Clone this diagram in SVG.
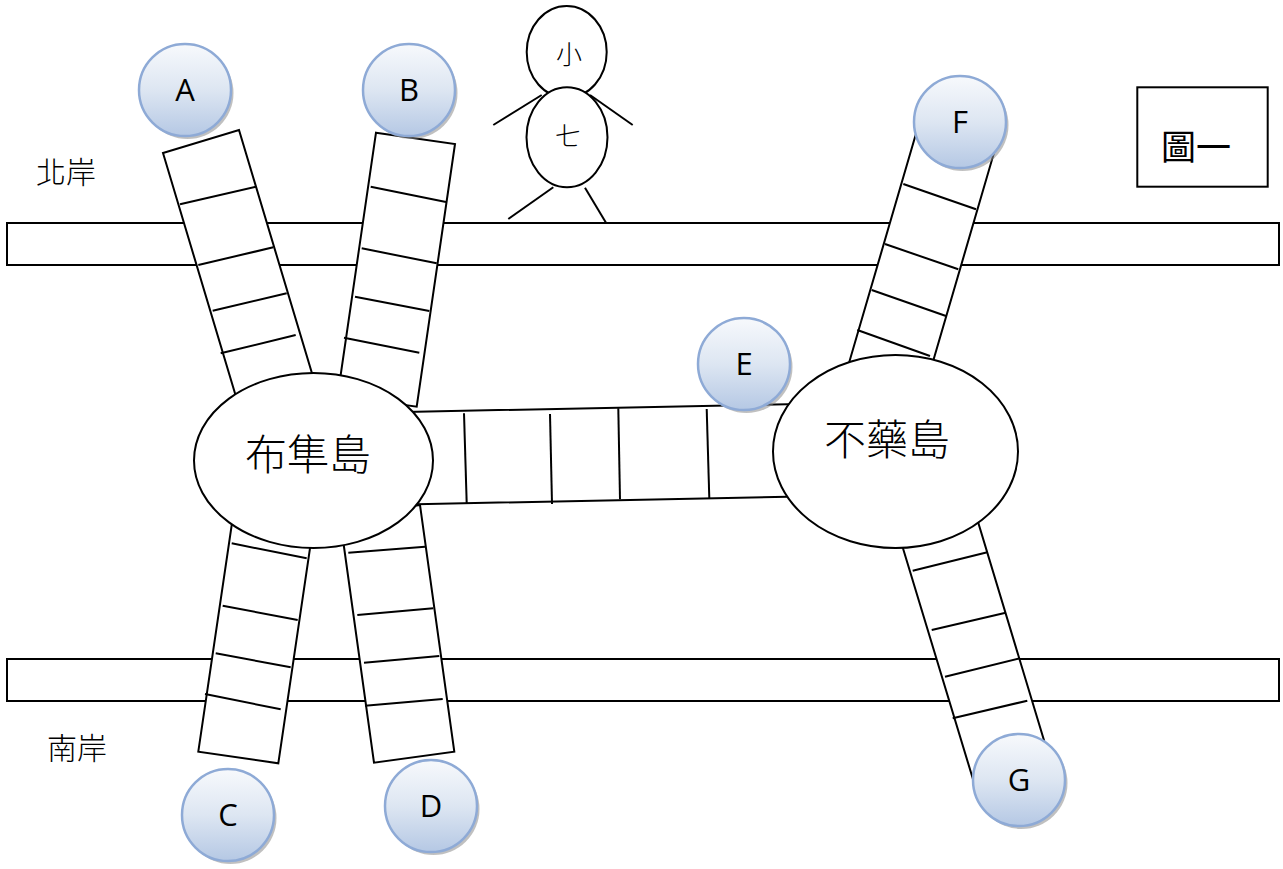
<svg xmlns="http://www.w3.org/2000/svg" width="1283" height="869" viewBox="0 0 1283 869">
<defs>
<linearGradient id="bub" x1="0" y1="0" x2="0" y2="1">
<stop offset="0" stop-color="#f7f9fc"/>
<stop offset="0.5" stop-color="#dde6f2"/>
<stop offset="1" stop-color="#b5c8e4"/>
</linearGradient>
</defs>
<style>
.bank{fill:#fff;stroke:#000;stroke-width:2}
.br{fill:#fff;stroke:#000;stroke-width:2;stroke-linejoin:miter}
.rung{stroke:#000;stroke-width:2;fill:none}
.isl{fill:#fff;stroke:#000;stroke-width:2}
.cj{font-family:"Noto Sans CJK TC","Noto Sans CJK SC",sans-serif;fill:#000;font-weight:300}
.bub{fill:url(#bub);stroke:#8eaad6;stroke-width:2.5}
.sh{fill:#8c8c8c;opacity:0.55}
.lt{font-family:"Open Sans","Liberation Sans",sans-serif;font-size:31px;fill:#000;text-anchor:middle}
</style>
<rect width="1283" height="869" fill="#fff"/>

<g id="banks">
<rect class="bank" x="7" y="223" width="1272" height="42"/>
<rect class="bank" x="7" y="659" width="1272" height="42"/>
<text class="cj" x="36" y="183" font-size="30">北岸</text>
<text class="cj" x="47" y="759" font-size="30">南岸</text>
</g>

<g id="connectors">
<g id="bridge-A">
<polygon class="br" points="163,153 239,130 326,420 243,420"/>
<line class="rung" x1="180" y1="204.3" x2="256" y2="186.7"/>
<line class="rung" x1="198.3" y1="265" x2="273.3" y2="247.3"/>
<line class="rung" x1="212.7" y1="310.7" x2="286.7" y2="293.3"/>
<line class="rung" x1="220.7" y1="353.3" x2="295.7" y2="335"/>
</g>
<g id="bridge-B">
<polygon class="br" points="376,132.7 455,144 416.7,406.7 337.7,395.4"/>
<line class="rung" x1="370.7" y1="186.7" x2="446" y2="202"/>
<line class="rung" x1="361.7" y1="248.3" x2="436.7" y2="263.3"/>
<line class="rung" x1="355" y1="296.7" x2="429.3" y2="311"/>
<line class="rung" x1="344" y1="337.7" x2="419.3" y2="352.7"/>
</g>
<g id="bridge-C">
<polygon class="br" points="235.4,500 315.4,511.6 278.3,763.3 198.3,751.7"/>
<line class="rung" x1="231.7" y1="543.3" x2="306.7" y2="558.3"/>
<line class="rung" x1="222.7" y1="605.7" x2="297.7" y2="620"/>
<line class="rung" x1="215.7" y1="653.3" x2="290.7" y2="667.3"/>
<line class="rung" x1="205" y1="694" x2="280.7" y2="709.3"/>
</g>
<g id="bridge-D">
<polygon class="br" points="339.7,516 420,505 454.3,751.7 374,762.7"/>
<line class="rung" x1="348.3" y1="552.7" x2="425" y2="546.7"/>
<line class="rung" x1="357.3" y1="615" x2="433.3" y2="608.3"/>
<line class="rung" x1="364" y1="662.7" x2="439.3" y2="656"/>
<line class="rung" x1="365" y1="705.7" x2="442.7" y2="699"/>
</g>
<g id="bridge-E">
<polygon class="br" points="405,412 800,404 800,496.5 405,504.5"/>
<line class="rung" x1="464" y1="413.3" x2="466.7" y2="503.3"/>
<line class="rung" x1="550" y1="414" x2="552" y2="504"/>
<line class="rung" x1="618.3" y1="408.3" x2="620" y2="499.3"/>
<line class="rung" x1="706.7" y1="409" x2="709.3" y2="498.3"/>
</g>
<g id="bridge-F">
<polygon class="br" points="920,120 996,146 920,406 844,380"/>
<line class="rung" x1="903.3" y1="184" x2="976" y2="209.3"/>
<line class="rung" x1="885" y1="244" x2="958.3" y2="269.3"/>
<line class="rung" x1="871.7" y1="290" x2="946" y2="316"/>
<line class="rung" x1="857.3" y1="330" x2="930" y2="356"/>
</g>
<g id="bridge-G">
<polygon class="br" points="894.4,520 971.4,500 1056,780 979.3,800"/>
<line class="rung" x1="912.7" y1="570.7" x2="987.3" y2="552.3"/>
<line class="rung" x1="931.7" y1="630" x2="1005.7" y2="612.7"/>
<line class="rung" x1="945" y1="676.7" x2="1020" y2="658.3"/>
<line class="rung" x1="952.7" y1="718.3" x2="1027.3" y2="700.7"/>
</g>
</g>

<g id="island-buzhun">
<ellipse class="isl" cx="313.5" cy="460.5" rx="119.5" ry="87.5"/>
<text class="cj" x="308" y="470" font-size="42" text-anchor="middle">布隼島</text>
</g>
<g id="island-buyao">
<ellipse class="isl" cx="895.5" cy="451.5" rx="122.5" ry="96.5"/>
<text class="cj" x="887" y="455" font-size="42" text-anchor="middle">不藥島</text>
</g>

<g id="person-xiaoqi">
<line class="rung" x1="541.7" y1="95" x2="493.3" y2="125"/>
<line class="rung" x1="590" y1="95" x2="632.7" y2="125"/>
<line class="rung" x1="553.3" y1="187.3" x2="508.3" y2="219"/>
<line class="rung" x1="585" y1="187.7" x2="606" y2="222.7"/>
<ellipse class="isl" cx="566.7" cy="52" rx="40" ry="46"/>
<ellipse class="isl" cx="567" cy="137.3" rx="40.5" ry="50"/>
<text class="cj" x="569" y="64" font-size="26" text-anchor="middle">小</text>
<text class="cj" x="568" y="146" font-size="26" text-anchor="middle">七</text>
</g>

<g id="title">
<rect x="1137.3" y="87.3" width="130.4" height="99.4" fill="#fff" stroke="#000" stroke-width="2"/>
<text x="1196" y="160" font-size="35" font-family="'Noto Sans CJK TC','Noto Sans CJK SC',sans-serif" text-anchor="middle">圖一</text>
</g>

<g id="node-A"><circle class="sh" cx="187.5" cy="93" r="46"/><circle class="bub" cx="185" cy="90" r="46"/><text class="lt" x="185" y="101">A</text></g>
<g id="node-B"><circle class="sh" cx="411.5" cy="93" r="46"/><circle class="bub" cx="409" cy="90" r="46"/><text class="lt" x="409" y="101">B</text></g>
<g id="node-C"><circle class="sh" cx="230.5" cy="818" r="46"/><circle class="bub" cx="228" cy="815" r="46"/><text class="lt" x="228" y="826">C</text></g>
<g id="node-D"><circle class="sh" cx="433.5" cy="809" r="46"/><circle class="bub" cx="431" cy="806" r="46"/><text class="lt" x="431" y="817">D</text></g>
<g id="node-E"><circle class="sh" cx="746.5" cy="367" r="46"/><circle class="bub" cx="744" cy="364" r="46"/><text class="lt" x="744" y="375">E</text></g>
<g id="node-F"><circle class="sh" cx="962.5" cy="125" r="46"/><circle class="bub" cx="960" cy="122" r="46"/><text class="lt" x="960" y="133">F</text></g>
<g id="node-G"><circle class="sh" cx="1021.5" cy="783" r="46"/><circle class="bub" cx="1019" cy="780" r="46"/><text class="lt" x="1019" y="791">G</text></g>
</svg>
